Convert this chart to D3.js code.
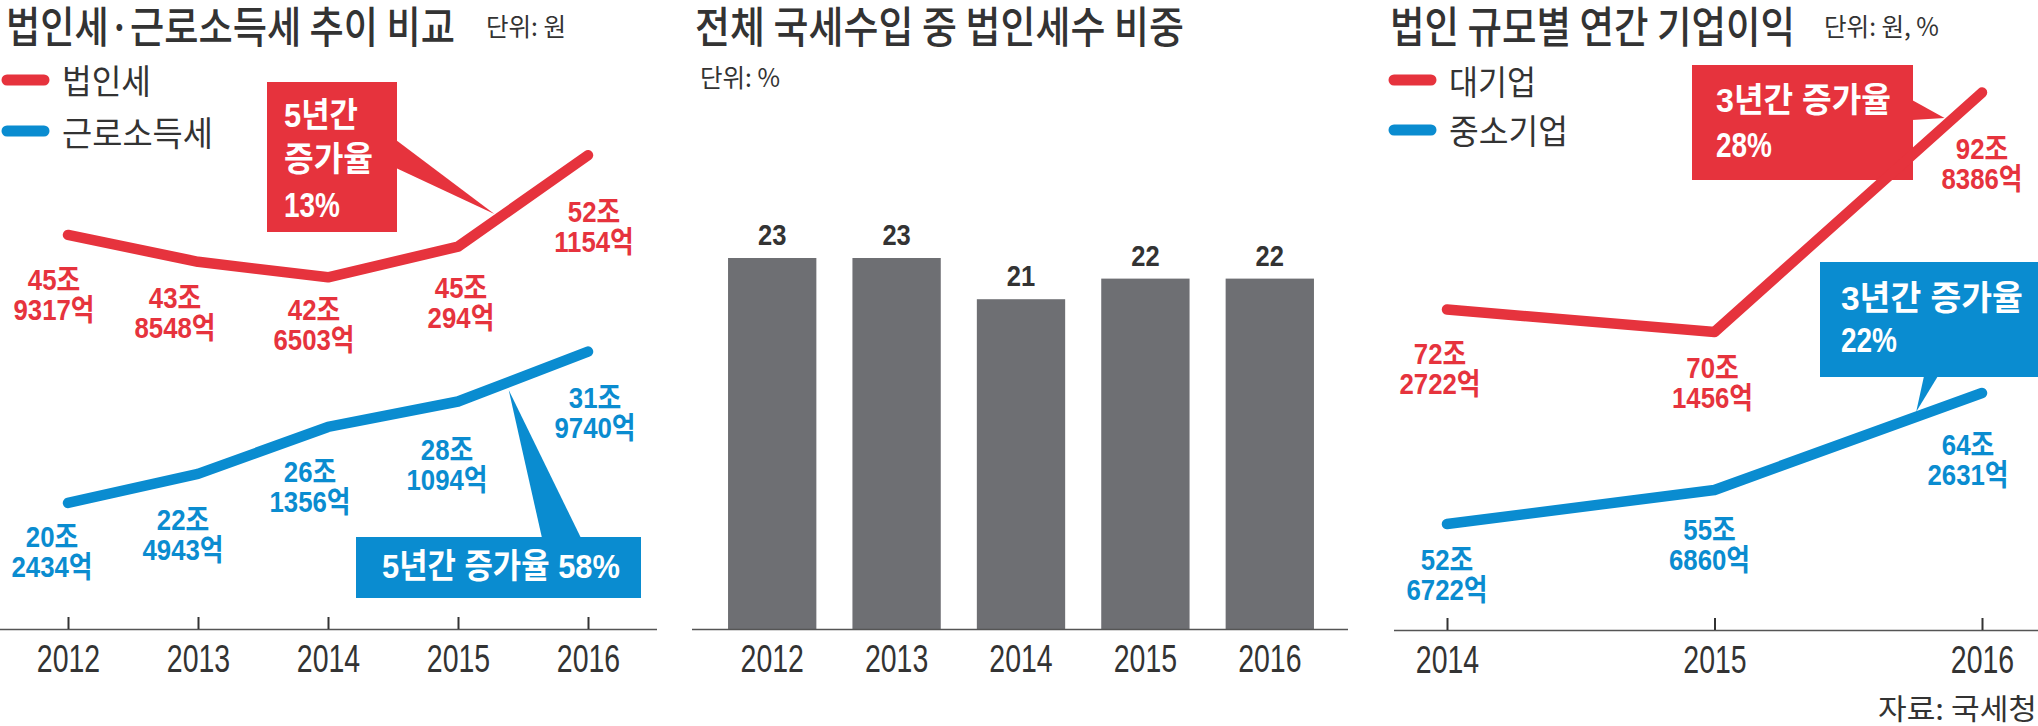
<!DOCTYPE html>
<html><head><meta charset="utf-8">
<script src="https://cdn.jsdelivr.net/npm/d3@7"></script>
<style>
html,body{margin:0;padding:0;background:#fff;}
svg{display:block;}
</style></head>
<body>
<svg id="chart" width="2038" height="726"></svg>
<script>
// ---------------- DATA ----------------
const years1 = [2012, 2013, 2014, 2015, 2016];
const corpTax = [45.9317, 43.8548, 42.6503, 45.0294, 52.1154];   // 법인세 (조원)
const laborTax = [20.2434, 22.4943, 26.1356, 28.1094, 31.9740];  // 근로소득세 (조원)
const shareYears = [2012, 2013, 2014, 2015, 2016];
const corpShare = [23, 23, 21, 22, 22];                          // 법인세수 비중 (%)
const years3 = [2014, 2015, 2016];
const largeProfit = [72.2722, 70.1456, 92.8386];                 // 대기업 (조원)
const smeProfit = [52.6722, 55.6860, 64.2631];                   // 중소기업 (조원)
const titles = ["법인세·근로소득세 추이 비교", "전체 국세수입 중 법인세수 비중", "법인 규모별 연간 기업이익"];
const units = ["단위: 원", "단위: %", "단위: 원, %"];
const legend1 = ["법인세", "근로소득세"];
const legend3 = ["대기업", "중소기업"];
const source = "자료: 국세청";

// ---------------- STYLE ----------------
const RED = "#e6333d", BLUE = "#0a8cd0", GRAY = "#6e6f73", INK = "#333333";
const KR = "'Noto Sans CJK KR', sans-serif";
const NUM = "'Liberation Sans', Arial, 'Noto Sans CJK KR', sans-serif";

const svg = d3.select("#chart");

// text helper: either a fixed horizontal condense factor (sx) or a target width
function txt(g, s, o) {
  const t = g.append("text").text(s)
    .attr("font-family", o.family || KR)
    .attr("font-size", o.size)
    .attr("font-weight", o.weight || 400)
    .attr("fill", o.fill || INK)
    .attr("dominant-baseline", "central")
    .attr("text-anchor", o.anchor || "start");
  let sx = o.sx || 1;
  if (o.width) {
    const natural = t.node().getComputedTextLength();
    if (natural > 0) sx = o.width / natural;
  }
  t.attr("transform", `translate(${o.x},${o.y}) scale(${sx},1)`);
  return t;
}
function joLabel(v) {
  const jo = Math.floor(v);
  const eok = Math.round((v - jo) * 10000);
  return [jo + "조", eok + "억"];
}
function drawLine(g, xs, ys, keys, vals, color) {
  g.append("path").datum(vals)
    .attr("fill", "none").attr("stroke", color).attr("stroke-width", 10.5)
    .attr("stroke-linecap", "round").attr("stroke-linejoin", "round")
    .attr("d", d3.line().x((d, i) => xs(keys[i])).y(d => ys(d)));
}
function drawValueLabels(g, xs, ys, keys, vals, offs, color) {
  vals.forEach((v, i) => {
    const [a, b] = joLabel(v);
    const cx = xs(keys[i]) + offs[i][0], cy = ys(v) + offs[i][1];
    txt(g, a, {x: cx, y: cy, size: 30, weight: 700, fill: color, family: NUM, anchor: "middle", sx: 0.86});
    txt(g, b, {x: cx, y: cy + 30, size: 30, weight: 700, fill: color, family: NUM, anchor: "middle", sx: 0.86});
  });
}
function pointOn(xs, ys, keys, vals, i, t) {
  const xa = xs(keys[i]), xb = xs(keys[i + 1]);
  const ya = ys(vals[i]), yb = ys(vals[i + 1]);
  return [xa + (xb - xa) * t, ya + (yb - ya) * t];
}
function legendItem(g, x, y, label, color, w) {
  g.append("line").attr("x1", x).attr("x2", x + 37).attr("y1", y).attr("y2", y)
    .attr("stroke", color).attr("stroke-width", 11).attr("stroke-linecap", "round");
  txt(g, label, {x: x + 55, y: y, size: 34, width: w});
}
function styleAxis(ax, sx) {
  ax.select(".domain").remove();
  ax.selectAll(".tick line").attr("stroke", INK).attr("stroke-width", 2);
  ax.selectAll(".tick text")
    .attr("y", 29).attr("dy", null)
    .attr("dominant-baseline", "central")
    .attr("font-family", NUM).attr("font-size", 39).attr("fill", INK)
    .attr("transform", `scale(${sx},1)`);
}

// ================= PANEL 1 =================
const g1 = svg.append("g");
const x1 = d3.scalePoint().domain(years1).range([68, 588]);
const yR1 = d3.scaleLinear().domain([40, 55]).range([311.5, 118]);
const yB1 = d3.scaleLinear().domain([15, 35]).range([570.6, 312.6]);
const axisY1 = 629;

txt(g1, titles[0], {x: 6, y: 24, size: 43, weight: 500, width: 449});
txt(g1, units[0], {x: 486, y: 25, size: 25, width: 80});
legendItem(g1, 7, 80, legend1[0], RED, 89);
legendItem(g1, 7, 131, legend1[1], BLUE, 151);

g1.append("line").attr("x1", 0).attr("x2", 657).attr("y1", axisY1 + 0.5).attr("y2", axisY1 + 0.5)
  .attr("stroke", "#555").attr("stroke-width", 1.6);
const ax1 = g1.append("g").attr("transform", `translate(0,${axisY1})`)
  .call(d3.axisBottom(x1).tickSizeInner(-12).tickSizeOuter(0).tickFormat(d3.format("d")));
styleAxis(ax1, 0.73);

drawLine(g1, x1, yR1, years1, corpTax, RED);
drawLine(g1, x1, yB1, years1, laborTax, BLUE);

// red callout
{
  const [px, py] = pointOn(x1, yR1, years1, corpTax, 3, 0.28);
  g1.append("polygon").attr("fill", RED)
    .attr("points", `396,140 396,168 ${px},${py - 7}`);
  g1.append("rect").attr("x", 267).attr("y", 82).attr("width", 130).attr("height", 150).attr("fill", RED);
  txt(g1, "5년간", {x: 284, y: 115, size: 34, weight: 700, fill: "#fff", family: NUM, width: 74});
  txt(g1, "증가율", {x: 284, y: 159, size: 34, weight: 700, fill: "#fff", family: NUM, width: 89});
  txt(g1, "13%", {x: 284, y: 205, size: 35, weight: 700, fill: "#fff", family: NUM, width: 56});
}
// blue callout
{
  const [px, py] = pointOn(x1, yB1, years1, laborTax, 3, 0.39);
  g1.append("polygon").attr("fill", BLUE)
    .attr("points", `${px},${py + 8} 542,538 581,538`);
  g1.append("rect").attr("x", 356).attr("y", 537).attr("width", 285).attr("height", 61).attr("fill", BLUE);
  txt(g1, "5년간 증가율 58%", {x: 382, y: 566, size: 34, weight: 700, fill: "#fff", family: NUM, width: 238});
}

drawValueLabels(g1, x1, yR1, years1, corpTax, [[-14,45],[-23,36],[-14,33],[3,41],[6,57]], RED);
drawValueLabels(g1, x1, yB1, years1, laborTax, [[-16,34],[-15,46],[-18,45],[-11,48],[7,46]], BLUE);

// ================= PANEL 2 =================
const g2 = svg.append("g");
const x2 = d3.scaleBand().domain(shareYears).range([710, 1332]).paddingInner(0.29).paddingOuter(0.145);
const y2 = d3.scaleLinear().domain([5, 23]).range([629, 258]);
const axisY2 = 629;

txt(g2, titles[1], {x: 695, y: 24, size: 43, weight: 500, width: 489});
txt(g2, units[1], {x: 700, y: 76, size: 25, width: 80});

g2.selectAll("rect.bar").data(corpShare).join("rect").attr("class", "bar")
  .attr("x", (d, i) => x2(shareYears[i])).attr("width", x2.bandwidth())
  .attr("y", d => y2(d)).attr("height", d => axisY2 - y2(d))
  .attr("fill", GRAY);
corpShare.forEach((d, i) => {
  txt(g2, String(d), {x: x2(shareYears[i]) + x2.bandwidth() / 2, y: y2(d) - 23, size: 29, weight: 700,
    family: NUM, anchor: "middle", sx: 0.88});
});
g2.append("line").attr("x1", 692).attr("x2", 1348).attr("y1", axisY2 + 0.5).attr("y2", axisY2 + 0.5)
  .attr("stroke", "#555").attr("stroke-width", 1.6);
const ax2 = g2.append("g").attr("transform", `translate(0,${axisY2})`)
  .call(d3.axisBottom(x2).tickSize(0).tickFormat(d3.format("d")));
styleAxis(ax2, 0.73);

// ================= PANEL 3 =================
const g3 = svg.append("g");
const x3 = d3.scalePoint().domain(years3).range([1447, 1982]);
const yR3 = d3.scaleLinear().domain([60, 100]).range([439, 17]);
const yB3 = d3.scaleLinear().domain([50, 70]).range([554.2, 328.2]);
const axisY3 = 630;

txt(g3, titles[2], {x: 1390, y: 24, size: 43, weight: 500, width: 405});
txt(g3, units[2], {x: 1824, y: 25, size: 25, width: 115});
legendItem(g3, 1394, 80, legend3[0], RED, 87);
legendItem(g3, 1394, 130, legend3[1], BLUE, 119);

g3.append("line").attr("x1", 1394).attr("x2", 2038).attr("y1", axisY3 + 0.5).attr("y2", axisY3 + 0.5)
  .attr("stroke", "#555").attr("stroke-width", 1.6);
const ax3 = g3.append("g").attr("transform", `translate(0,${axisY3})`)
  .call(d3.axisBottom(x3).tickSizeInner(-12).tickSizeOuter(0).tickFormat(d3.format("d")));
styleAxis(ax3, 0.73);

// red callout (behind line)
{
  const [px, py] = pointOn(x3, yR3, years3, largeProfit, 1, 0.86);
  g3.append("polygon").attr("fill", RED)
    .attr("points", `1912,100 1912,120 ${px},${py - 8}`);
  g3.append("rect").attr("x", 1692).attr("y", 65).attr("width", 221).attr("height", 115).attr("fill", RED);
}
drawLine(g3, x3, yR3, years3, largeProfit, RED);
drawLine(g3, x3, yB3, years3, smeProfit, BLUE);
txt(g3, "3년간 증가율", {x: 1716, y: 100, size: 34, weight: 700, fill: "#fff", family: NUM, width: 175});
txt(g3, "28%", {x: 1716, y: 145, size: 35, weight: 700, fill: "#fff", family: NUM, width: 56});
// blue callout
{
  const [px, py] = pointOn(x3, yB3, years3, smeProfit, 1, 0.754);
  g3.append("polygon").attr("fill", BLUE)
    .attr("points", `1924,376 1938,376 ${px},${py - 5}`);
  g3.append("rect").attr("x", 1820).attr("y", 262).attr("width", 218).attr("height", 115).attr("fill", BLUE);
  txt(g3, "3년간 증가율", {x: 1841, y: 298, size: 34, weight: 700, fill: "#fff", family: NUM, width: 182});
  txt(g3, "22%", {x: 1841, y: 340, size: 35, weight: 700, fill: "#fff", family: NUM, width: 56});
}

drawValueLabels(g3, x3, yR3, years3, largeProfit, [[-7,44],[-2,36],[0,56]], RED);
drawValueLabels(g3, x3, yB3, years3, smeProfit, [[0,36],[-5,40],[-14,52]], BLUE);

txt(g3, source, {x: 1878, y: 707, size: 29, width: 159});
</script>
</body></html>
